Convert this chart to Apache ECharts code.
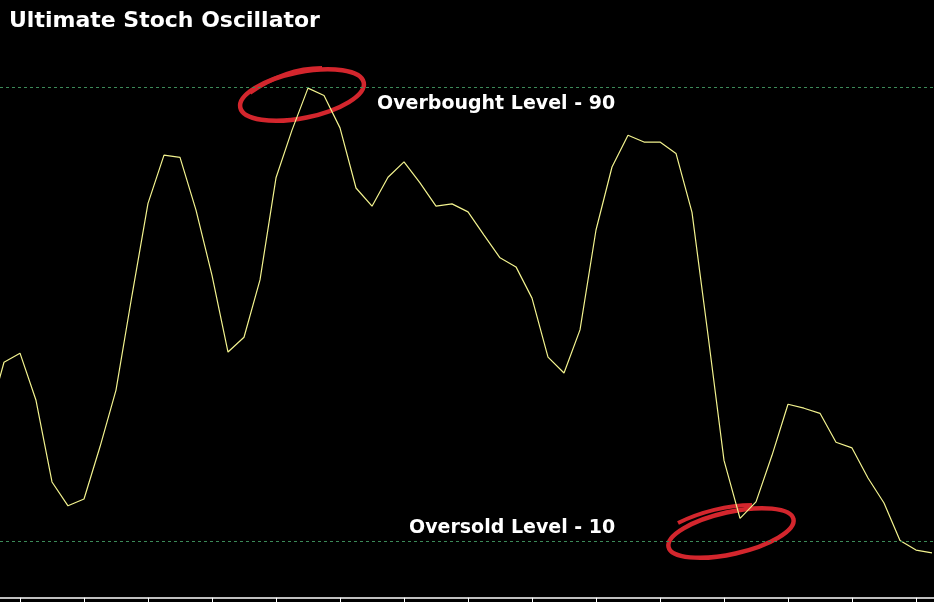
<!DOCTYPE html>
<html>
<head>
<meta charset="utf-8">
<title>Ultimate Stoch Oscillator</title>
<script src="https://cdn.jsdelivr.net/npm/echarts@6/dist/echarts.min.js"></script>
<style>
  html, body { margin: 0; padding: 0; background: #000; }
  #chart { width: 934px; height: 602px; }
</style>
</head>
<body>
<div id="chart"></div>
<script>
// oscillator readings, one per bar (first bar sits just left of the visible area)
var firstPeriod = -2
var stochValues = [31.3, 41.5, 43.1, 34.8, 20.4, 16.2, 17.4, 26.6, 36.6, 53.3,
  69.5, 78.0, 77.6, 68.3, 56.8, 43.3, 45.9, 56.0, 74.0, 82.4,
  89.8, 88.5, 82.8, 72.2, 69.0, 74.1, 76.8, 73.1, 69.0, 69.4,
  68.0, 63.9, 59.9, 58.3, 52.8, 42.4, 39.6, 47.2, 64.8, 75.9,
  81.5, 80.3, 80.3, 78.3, 67.9, 46.3, 24.2, 14.0, 16.9, 25.1,
  34.1, 33.4, 32.5, 27.4, 26.4, 21.1, 16.7, 10.1, 8.4, 7.9]

// horizontal reference levels
var overbought = 90
var oversold = 10

// bottom axis tick positions (in bars)
var tickPeriods = [0, 4, 8, 12, 16, 20, 24, 28, 32, 36, 40, 44, 48, 52, 56]

var chart = echarts.init(document.getElementById('chart'))

var lineData = stochValues.map(function (v, i) { return [firstPeriod + i, v] })

var red = '#d3262d'
var option = {
  backgroundColor: '#000',
  animation: false,
  grid: { left: 0, right: 0, top: 30.25, bottom: 4.25 },
  xAxis: {
    type: 'value',
    min: -1.25,
    max: 57.125,
    axisLine: { show: true, lineStyle: { color: '#ffffff', width: 1.5 } },
    axisTick: {
      show: true,
      length: 5,
      customValues: tickPeriods,
      lineStyle: { color: '#ffffff', width: 1 }
    },
    axisLabel: { show: false },
    splitLine: { show: false }
  },
  yAxis: {
    type: 'value',
    min: 0,
    max: 100,
    show: false,
    splitLine: { show: false }
  },
  series: [{
    type: 'line',
    data: lineData,
    symbol: 'none',
    clip: true,
    lineStyle: { color: '#f2f28e', width: 1.2 },
    markLine: {
      silent: true,
      symbol: 'none',
      label: { show: false },
      lineStyle: { color: '#3c8a58', width: 1, type: [3, 3] },
      data: [{ yAxis: overbought }, { yAxis: oversold }]
    }
  }],
  graphic: [
    {
      type: 'text', left: 9, top: 10,
      style: { text: 'Ultimate Stoch Oscillator', fill: '#ffffff',
        font: 'bold 22px "DejaVu Sans", sans-serif' }
    },
    {
      type: 'text', left: 377, top: 95,
      style: { text: 'Overbought Level - 90', fill: '#ffffff',
        font: 'bold 19px "DejaVu Sans", sans-serif' }
    },
    {
      type: 'text', left: 409, top: 519,
      style: { text: 'Oversold Level - 10', fill: '#ffffff',
        font: 'bold 19px "DejaVu Sans", sans-serif' }
    },
    // red hand drawn circles
    {
      type: 'ellipse', x: 302, y: 95, rotation: 0.2,
      shape: { cx: 0, cy: 0, rx: 63, ry: 23 },
      style: { fill: 'none', stroke: red, lineWidth: 4.5 }
    },
    {
      type: 'bezierCurve',
      shape: { x1: 250, y1: 93, x2: 322, y2: 68, cpx1: 275, cpy1: 75, cpx2: 300, cpy2: 68 },
      style: { fill: 'none', stroke: red, lineWidth: 4 }
    },
    {
      type: 'ellipse', x: 731, y: 533, rotation: 0.22,
      shape: { cx: 0, cy: 0, rx: 64, ry: 21 },
      style: { fill: 'none', stroke: red, lineWidth: 4.5 }
    },
    {
      type: 'bezierCurve',
      shape: { x1: 678, y1: 523, x2: 752, y2: 505, cpx1: 700, cpy1: 512, cpx2: 728, cpy2: 505 },
      style: { fill: 'none', stroke: red, lineWidth: 4 }
    }
  ]
}

chart.setOption(option)
</script>
</body>
</html>
